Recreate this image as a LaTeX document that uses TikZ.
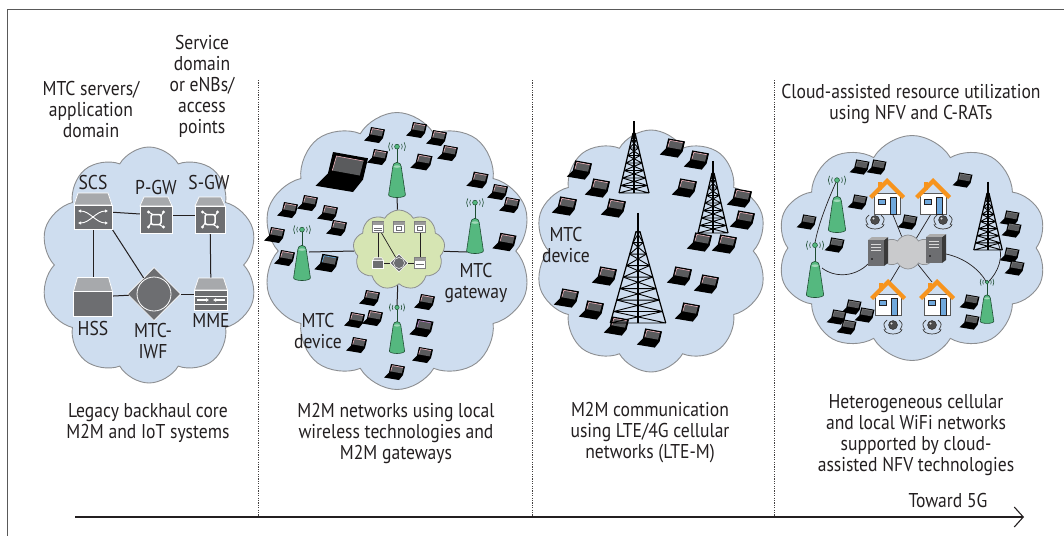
\documentclass[tikz,border=0pt]{standalone}
\usepackage{fontspec}
\setmainfont{PT Sans}[FakeStretch=0.88]
\usetikzlibrary{shapes.symbols,shapes.geometric,arrows.meta}

\definecolor{ink}{HTML}{231F20}
\definecolor{cloudblue}{HTML}{CEDDEF}
\definecolor{cloudedge}{HTML}{8C8E91}
\definecolor{gcloudfill}{HTML}{D6E5B3}
\definecolor{graycloud}{HTML}{C9CACC}
\definecolor{boxtop}{HTML}{A7A9AC}
\definecolor{boxbody}{HTML}{6D6E71}
\definecolor{antgreen}{HTML}{55B87F}
\definecolor{antedge}{HTML}{1E4D32}
\definecolor{roof}{HTML}{F7941D}
\definecolor{doorblue}{HTML}{6FA8DC}
\definecolor{lapscreen}{HTML}{5A5B5D}
\definecolor{lappink}{HTML}{F1B5BE}
\definecolor{lapblue}{HTML}{5DA9E0}
\definecolor{lappurple}{HTML}{C58BD0}

\tikzset{
  % small isometric laptop, origin near its middle
  pics/laptop/.style={code={
    \fill[black] (-4,-8) -- (10,-5.5) -- (8,3) -- (4,8) -- (-11,5.5) -- (-6,0.5) -- cycle;
    \fill[lapscreen] (-2.6,-6.4) -- (8.2,-4.4) -- (6.7,1.4) -- (-4.3,-0.6) -- cycle;
    \draw[#1,line width=0.6] (-4.3,-0.6) -- (-2.6,-6.4) -- (8.2,-4.4);
  }},
  pics/laptop/.default=lappink,
  % green access point, origin at the foot of its body
  pics/antenna/.style={code={
    \draw[antedge,line width=0.7] (0,-31) -- (0,-45.5);
    \filldraw[fill=antgreen,draw=antedge,line width=0.6] (-8,-2) -- (-4,-29)
      arc[start angle=180,end angle=360,radius=4] -- (8,-2)
      arc[start angle=0,end angle=180,x radius=8,y radius=2.5] -- cycle;
    \fill[antgreen!55!white] (0,-29) ellipse [x radius=3.2, y radius=1.2];
    \filldraw[fill=antgreen,draw=antedge,line width=0.5] (0,-48) circle [radius=2.3];
    \foreach \r in {5,8}{
      \draw[antedge,line width=0.6] (0,-48) ++(150:\r) arc[start angle=150,end angle=210,radius=\r];
      \draw[antedge,line width=0.6] (0,-48) ++(-30:\r) arc[start angle=-30,end angle=30,radius=\r];
    }
  }},
  % lattice radio mast, origin at the centre of its base
  pics/tower/.style={code={
    \draw[line width=1.2] (0,-72) -- (0,0);
    \draw[line width=1.2] (-1,-60) -- (-15,0) (1,-60) -- (15,0);
    \foreach \k in {0,...,7}{
      \pgfmathsetmacro\ya{-60+7.5*\k}
      \pgfmathsetmacro\yb{-60+7.5*(\k+1)}
      \pgfmathsetmacro\xa{1+1.75*\k}
      \pgfmathsetmacro\xb{1+1.75*(\k+1)}
      \draw[line width=0.9] (-\xa,\ya) -- (\xb,\yb) (\xa,\ya) -- (-\xb,\yb) (-\xb,\yb) -- (\xb,\yb);
    }
  }},
  pics/house/.style={code={
    \fill[roof] (-9,-15) rectangle (-5,-7);
    \filldraw[fill=white,draw=gray!70!black,line width=0.6] (-13,-4) rectangle (13,17);
    \fill[roof] (-18,-1) -- (0,-19) -- (18,-1) -- (15,2) -- (0,-13) -- (-15,2) -- cycle;
    \filldraw[fill=doorblue,draw=ink,line width=0.5] (-9,2) rectangle (-2,7);
    \filldraw[fill=doorblue,draw=ink,line width=0.5] (3,0) rectangle (9,17);
  }},
  pics/person/.style={code={
    \draw[gray!45!black,line width=0.7] (-9,2) arc[start angle=180,end angle=0,x radius=9,y radius=5];
    \draw[gray!45!black,line width=0.7] (-6,-7) .. controls (-10,-3) .. (-7,3);
    \draw[gray!45!black,line width=0.7] (6,-7) .. controls (10,-3) .. (7,3);
    \filldraw[fill=gray!60!black,draw=gray!30!black,line width=0.4] (0,-2) circle [radius=4.5];
    \fill[gray!25] (-1.5,-3.5) circle [radius=1.2];
  }},
  pics/server/.style={code={
    \fill[gray!45!black] (6,-13) -- (10,-16) -- (10,10) -- (6,13) -- cycle;
    \fill[gray!65] (-10,-13) -- (-6,-16) -- (10,-16) -- (6,-13) -- cycle;
    \fill[boxbody] (-10,-13) rectangle (6,13);
    \draw[gray!30,line width=0.5] (-7,-9) -- (3,-9) (-7,-6) -- (3,-6) (-7,-3) -- (3,-3);
    \fill[black] (-6,6) circle [radius=0.9];
  }},
  % core network element: light top face over a dark body
  pics/netbox/.style n args={3}{code={
    \filldraw[fill=boxtop,draw=white,line width=0.7] (-#1/2,-#2/2+#3) -- (-#1/2+4,-#2/2) -- (#1/2-4,-#2/2) -- (#1/2,-#2/2+#3) -- cycle;
    \filldraw[fill=boxbody,draw=white,line width=0.7] (-#1/2,-#2/2+#3) rectangle (#1/2,#2/2);
  }},
}

\begin{document}
\begin{tikzpicture}[x=1pt,y=-1pt,
  txt/.style={font=\fontsize{20}{21}\selectfont, text=ink, align=center, inner sep=0pt},
  cloudbg/.style={cloud, cloud puffs=10, cloud puff arc=120, draw=cloudedge, fill=cloudblue, line width=0.9, inner sep=0pt},
  conn/.style={draw=ink, line width=1},
  thinconn/.style={draw=ink, line width=0.7},
  divider/.style={draw=ink!85, line width=1, dash pattern=on 1.2pt off 1.2pt},
  timeline/.style={draw=ink, line width=2.6, -{Straight Barb[length=9pt,width=20pt,line width=1.1pt]}},
  hidden/.style={inner sep=0pt, outer sep=0pt},
]
\useasboundingbox (0,0) rectangle (1064,536);

% frame
\draw[gray!70!black, line width=1] (1064,9) -- (7,9) -- (7,536);

% network clouds
\node[cloudbg, aspect=0.92, minimum width=218, minimum height=236] (cl1) at (149,265) {};
\node[cloudbg, aspect=0.97, minimum width=270, minimum height=277] (cl2) at (397,251) {};
\node[cloudbg, aspect=0.96, minimum width=233, minimum height=242] (cl3) at (651,251) {};
\node[cloudbg, aspect=1.2, minimum width=270, minimum height=225] (cl4) at (912,248) {};

% era dividers
\coordinate (d1t) at (258,80);  \coordinate (d1b) at (258,516);
\coordinate (d2t) at (532,80);  \coordinate (d2b) at (532,516);
\coordinate (d3t) at (774,80);  \coordinate (d3b) at (774,516);
\draw[divider] (d1t) -- (d1b);
\draw[divider] (d2t) -- (d2b);
\draw[divider] (d3t) -- (d3b);

% ---------- legacy core ----------
\node[hidden, minimum width=38, minimum height=36] (scs) at (93,211) {};
\node[hidden, minimum width=32, minimum height=36] (pgw) at (156,215) {};
\node[hidden, minimum width=30, minimum height=36] (sgw) at (210,215) {};
\node[hidden, minimum width=39, minimum height=39] (hss) at (93,297) {};
\node[hidden, minimum width=33, minimum height=32] (mme) at (211,294) {};
\node[diamond, hidden, minimum width=53, minimum height=53, fill=boxbody, draw=white, line width=0.7] (iwf) at (154,294) {};
\draw[conn] (scs) -- (pgw);
\draw[conn] (pgw) -- (sgw);
\draw[conn] (scs) -- (hss);
\draw[conn] (scs.south east) -- (iwf);
\draw[conn] (hss) -- (iwf);
\draw[conn] (iwf) -- (mme);
\draw[conn] (sgw) -- (mme);
\filldraw[fill=boxbody,draw=white,line width=0.8] (iwf.center) circle [radius=17];

\pic at (scs) {netbox={38}{36}{12}};
\begin{scope}[shift={(scs.center)}]
  \draw[white,line width=0.9,{Latex[length=3pt,width=3.5pt]}-{Latex[length=3pt,width=3.5pt]}] (-15,0) .. controls (-3,0) and (3,12) .. (15,12);
  \draw[white,line width=0.9,{Latex[length=3pt,width=3.5pt]}-{Latex[length=3pt,width=3.5pt]}] (-15,12) .. controls (-3,12) and (3,0) .. (15,0);
\end{scope}
\pic at (pgw) {netbox={32}{36}{9}};
\pic at (sgw) {netbox={30}{36}{9}};
\foreach \n in {pgw,sgw}{
  \begin{scope}[shift={(\n.center)}]
    \draw[white,line width=1.5,rounded corners=2] (-5,-0.5) rectangle (5,9.5);
    \fill[white] (-7.5,-3) circle [radius=1.6] (7.5,-3) circle [radius=1.6] (-7.5,12) circle [radius=1.6] (7.5,12) circle [radius=1.6];
    \draw[white,line width=1] (-7.5,-3) -- (-3,-0.5) (7.5,12) -- (3,9.5) (7.5,-3) -- (5,1) (-7.5,12) -- (-5,8);
  \end{scope}
}
\pic at (hss) {netbox={39}{39}{14}};
\pic at (mme) {netbox={33}{32}{12}};
\begin{scope}[shift={(mme.center)}]
  \draw[white,line width=0.6] (-16.5,2) -- (16.5,2) (-16.5,10) -- (16.5,10);
  \draw[white,line width=1.2,-{Latex[length=3pt,width=4pt]}] (-14,6) -- (-2,6);
  \draw[white,line width=1.2,-{Latex[length=3pt,width=4pt]}] (14,6) -- (2,6);
\end{scope}

\node[txt] at (93,182) {SCS};
\node[txt] at (156,187) {P-GW};
\node[txt] at (209,182) {S-GW};
\node[txt] at (93,328) {HSS};
\node[txt] at (153,341) {MTC-\\IWF};
\node[txt] at (211,320) {MME};

% ---------- local wireless M2M ----------
\foreach \px/\py/\s in {375/135/1.0, 417/130/1.0, 437/138/1.0, 448/153/1.0, 378/157/1.0, 422/162/1.05,
  478/180/1.05, 498/192/1.0, 510/205/1.0, 308/203/1.0, 288/210/1.0, 328/213/1.0, 275/235/1.0,
  337/228/1.0, 285/258/1.0, 505/242/1.15, 370/298/1.0, 425/302/1.0, 355/320/1.0, 373/318/1.0,
  357/345/1.0, 423/355/1.0, 395/372/1.0}
  \pic[scale=\s] at (\px,\py) {laptop};
\pic[scale=1.15] at (327,263) {laptop=lapblue};
\pic[scale=1.15] at (422,328) {laptop=lappurple};
\pic[scale=2.5] at (343,172) {laptop=lappink};

\node[cloud, cloud puffs=9, cloud puff arc=120, aspect=1.15, minimum width=92, minimum height=80,
      fill=gcloudfill, draw=cloudedge, line width=0.8, inner sep=0pt] (gc2) at (399,250) {};
\coordinate (a2t) at (397,197);
\coordinate (a2l) at (309,252);
\coordinate (a2r) at (467,252);
\coordinate (a2b) at (397,306);
\draw[conn] (a2t) -- (gc2);
\draw[conn] (a2l) -- (gc2);
\draw[conn] (a2r) -- (gc2);
\draw[conn] (a2b) -- (gc2);

% miniature core inside the gateway cloud
\node[hidden, minimum size=11] (m1) at (378,227) {};
\node[hidden, minimum size=11] (m2) at (399,227) {};
\node[hidden, minimum size=11] (m3) at (420,227) {};
\node[hidden, minimum size=11] (m4) at (378,263) {};
\node[diamond, hidden, minimum size=18, fill=boxbody, draw=white, line width=0.6] (m5) at (399,263) {};
\node[hidden, minimum size=11] (m6) at (420,263) {};
\draw[thinconn] (m1) -- (m4);
\draw[thinconn] (m1) -- (m5);
\draw[thinconn] (m3) -- (m6);
\draw[thinconn] (m4) -- (m5);
\draw[thinconn] (m5) -- (m6);
\filldraw[fill=boxbody,draw=white,line width=0.5] (m5.center) circle [radius=5.5];
\foreach \n in {m1,m2,m3,m6}{
  \filldraw[fill=white,draw=gray,line width=0.5] ([shift={(-5.5,-5.5)}]\n.center) rectangle ([shift={(5.5,5.5)}]\n.center);
  \fill[gray!80] ([shift={(-5.5,-5.5)}]\n.center) rectangle ([shift={(5.5,-2.5)}]\n.center);
}
\foreach \n in {m2,m3}
  \draw[boxbody,line width=0.8] ([shift={(-2.5,-1)}]\n.center) rectangle ([shift={(2.5,3.5)}]\n.center);
\draw[boxbody,line width=0.6] ([shift={(-4,1)}]m1.center) -- ([shift={(4,1)}]m1.center) ([shift={(-4,3)}]m1.center) -- ([shift={(4,3)}]m1.center);
\draw[boxbody,line width=0.6] ([shift={(-4,1.5)}]m6.center) -- ([shift={(4,1.5)}]m6.center);
\filldraw[fill=boxbody,draw=white,line width=0.5] ([shift={(-5.5,-2.5)}]m4.center) rectangle ([shift={(5.5,5.5)}]m4.center);
\filldraw[fill=gray!70,draw=white,line width=0.5] ([shift={(-5.5,-2.5)}]m4.center) -- ([shift={(-3.5,-5.5)}]m4.center) -- ([shift={(3.5,-5.5)}]m4.center) -- ([shift={(5.5,-2.5)}]m4.center) -- cycle;

\pic[scale=1.05] at (397,197) {antenna};
\pic[scale=1.05] at (302,280) {antenna};
\pic[scale=1.05] at (475,253) {antenna};
\pic[scale=0.95] at (397,353) {antenna};

\node[txt] at (476,283) {MTC\\gateway};
\node[txt] at (318,331) {MTC\\device};

% ---------- LTE / 4G ----------
\foreach \px/\py in {580/170, 598/188, 565/206, 614/208, 673/148, 697/160, 685/188, 740/198, 743/220,
  700/242, 725/244, 605/276, 680/276, 707/284, 567/298, 592/310, 617/326, 688/312, 650/338}
  \pic[scale=1.2] at (\px,\py) {laptop};
\pic at (634,193) {tower};
\pic at (713,233) {tower};
\pic[xscale=1.85,yscale=1.53] at (638,323) {tower};
\node[txt] at (566,245) {MTC\\device};

% ---------- cloud-assisted heterogeneous networks ----------
\foreach \px/\py in {860/167, 877/167, 963/180, 858/202, 807/222, 908/222, 835/245, 1010/218, 1012/230,
  1010/255, 1015/268, 852/307, 837/317, 865/315, 847/327, 970/302, 970/322}
  \pic[scale=0.95] at (\px,\py) {laptop=gray};

\node[cloud, cloud puffs=8, cloud puff arc=120, aspect=1.6, minimum width=56, minimum height=34,
      fill=graycloud, draw=cloudedge, line width=0.7, inner sep=0pt] (gc4) at (908,252) {};
\coordinate (h1) at (893,215);
\coordinate (h2) at (931,214);
\coordinate (h3) at (890,282);
\coordinate (h4) at (932,282);
\draw[thinconn] (h1) -- (gc4);
\draw[thinconn] (h2) -- (gc4);
\draw[thinconn] (h3) -- (gc4);
\draw[thinconn] (h4) -- (gc4);

\coordinate (a41w) at (837,180);
\coordinate (a42w) at (815,243);
\coordinate (a42b) at (822,268);
\coordinate (a43w) at (987,283);
\coordinate (srv1) at (868,264);
\coordinate (srv2) at (946,254);
\coordinate (tw4) at (998,243);
\draw[thinconn] (a41w) .. controls (828,200) and (818,225) .. (a42w);
\draw[thinconn] (a42b) .. controls (835,278) and (855,277) .. (srv1);
\draw[thinconn] (srv2) .. controls (965,258) and (980,270) .. (a43w);
\draw[thinconn] (tw4) .. controls (1004,256) and (999,272) .. (a43w);

\pic at (878,253) {server};
\pic at (936,250) {server};
\pic at (887,197) {house};
\pic at (933,197) {house};
\pic at (888,298) {house};
\pic at (937,298) {house};
\pic at (875,222) {person};
\pic at (943,222) {person};
\pic at (893,327) {person};
\pic at (932,327) {person};
\pic[scale=1.08] at (837,232) {antenna};
\pic[scale=1.08] at (815,297) {antenna};
\pic[scale=0.85] at (987,323) {antenna};
\pic[scale=0.95] at (988,250) {tower};

% ---------- headings and captions ----------
\node[txt] at (91,109) {MTC servers/\\application\\domain};
\node[txt] at (202,86) {Service\\domain\\or eNBs/\\access\\points};
\node[txt] at (911,104) {Cloud-assisted resource utilization\\using NFV and C-RATs};

\node[txt] at (148,423) {Legacy backhaul core\\M2M and IoT systems};
\node[txt] at (396,433) {M2M networks using local\\wireless technologies and\\M2M gateways};
\node[txt] at (650,433) {M2M communication\\using LTE/4G cellular\\networks (LTE-M)};
\node[txt] at (916,435) {Heterogeneous cellular\\and local WiFi networks\\supported by cloud-\\assisted NFV technologies};
\node[txt] at (948,500) {Toward 5G};

% timeline
\coordinate (tls) at (75,517);
\coordinate (tle) at (1024,517);
\draw[timeline] (tls) -- (tle);
\end{tikzpicture}
\end{document}
